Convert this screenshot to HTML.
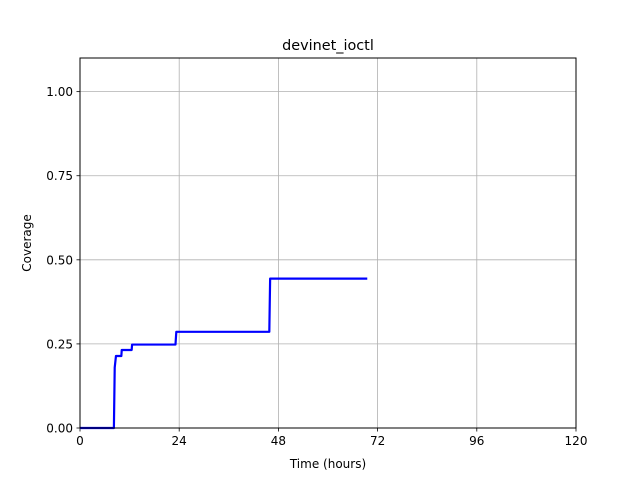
<!DOCTYPE html>
<html><head><meta charset="utf-8"><style>
body{margin:0;background:#fff}
svg text{font-family:"DejaVu Sans","Liberation Sans",sans-serif;fill:#000}
</style></head><body>
<svg id="chart" width="640" height="480" xmlns="http://www.w3.org/2000/svg">
<rect width="640" height="480" fill="#fff"/>
<g id="grid"></g>
<g id="ticks"></g>
<polyline id="series" fill="none" stroke="#0000ff" stroke-width="2.2" stroke-linejoin="round"/>
<rect x="80" y="58" width="496" height="370" fill="none" stroke="#000" stroke-width="1"/>
<text x="328" y="50" font-size="14.4" text-anchor="middle">devinet_ioctl</text>
<text x="328" y="468" font-size="12" text-anchor="middle">Time (hours)</text>
<text transform="translate(31,243) rotate(-90)" font-size="12" text-anchor="middle">Coverage</text>
</svg>
<script>
const xTicks=[0,24,48,72,96,120];
const yTicks=[0,0.25,0.5,0.75,1.0];
const yTickLabels=["0.00","0.25","0.50","0.75","1.00"];
const times=[0,8.2,8.4,8.7,10.0,10.1,12.5,12.6,23.1,23.3,45.8,46.0,69.5];
const coverage=[0,0,0.18,0.214,0.214,0.232,0.232,0.248,0.248,0.286,0.286,0.444,0.444];
const X0=80,X1=576,Y0=428,Y1=58;
const sx=v=>X0+(v-0)/(120-0)*(X1-X0);
const sy=v=>Y0-(v-0)/(1.1-0)*(Y0-Y1);
const NS="http://www.w3.org/2000/svg";
const grid=document.getElementById('grid'),ticks=document.getElementById('ticks');
function mk(tag,attrs,parent){const e=document.createElementNS(NS,tag);for(const k in attrs)e.setAttribute(k,attrs[k]);parent.appendChild(e);return e;}
xTicks.forEach(t=>{
  const x=sx(t);
  const g=mk('line',{x1:x,x2:x,y1:Y1,y2:Y0,stroke:'#b0b0b0','stroke-width':0.8},grid);
  
  
  const tk=mk('line',{x1:x,x2:x,y1:Y0,y2:Y0+3.5,stroke:'#000','stroke-width':0.8},ticks);
  
  
  const tx=mk('text',{x:x,y:Y0+17,'font-size':12,'text-anchor':'middle'},ticks);
  tx.textContent=String(t);
  
  
});
yTicks.forEach((t,i)=>{
  const y=sy(t);
  const g=mk('line',{x1:X0,x2:X1,y1:y,y2:y,stroke:'#b0b0b0','stroke-width':0.8},grid);
  
  
  const tk=mk('line',{x1:X0-3.5,x2:X0,y1:y,y2:y,stroke:'#000','stroke-width':0.8},ticks);
  
  
  const tx=mk('text',{x:X0-7,y:y+4.5,'font-size':12,'text-anchor':'end'},ticks);
  tx.textContent=yTickLabels[i];
  
  
});
document.getElementById('series').setAttribute('points',times.map((t,i)=>sx(t)+','+sy(coverage[i])).join(' '));
</script>
</body></html>
